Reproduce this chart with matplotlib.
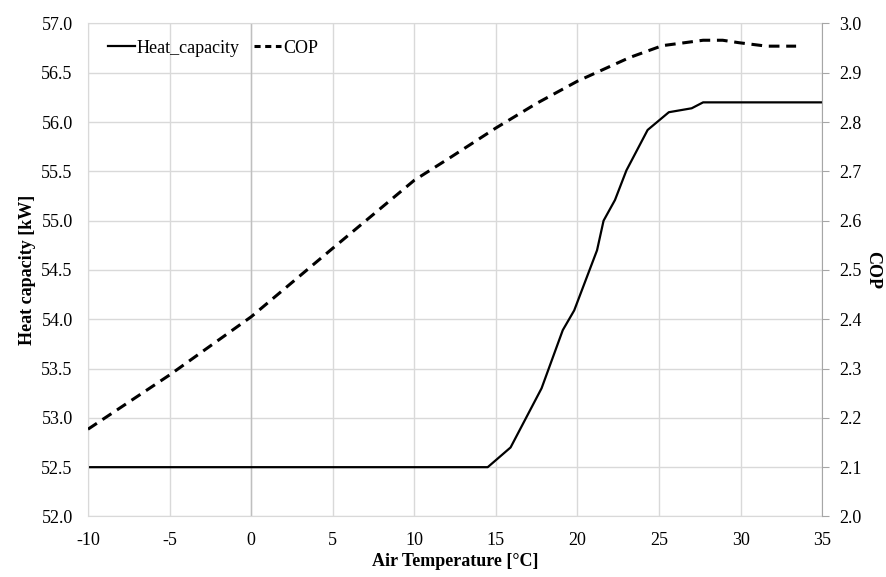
import matplotlib.pyplot as plt
from matplotlib.lines import Line2D

# data
heat_x = [-10, 14.5, 15.9, 17.8, 19.1, 19.8, 21.2, 21.6, 22.3, 23.0, 24.3, 25.6, 27.0, 27.7, 35]
heat_kw = [52.5, 52.5, 52.7, 53.3, 53.89, 54.09, 54.7, 55.0, 55.21, 55.51, 55.92, 56.1, 56.14, 56.2, 56.2]

cop_x = [-10, -5, 0, 5, 10, 12.2, 15, 17.5, 20, 22, 23.2, 25.2, 27.7, 28.9, 29.9, 31.6, 33.4]
cop = [2.177, 2.287, 2.405, 2.544, 2.682, 2.728, 2.788, 2.838, 2.883, 2.913, 2.931, 2.955, 2.966, 2.966,
       2.961, 2.954, 2.954]

x_ticks = list(range(-10, 36, 5))

plt.rcParams['font.family'] = ['Liberation Serif', 'DejaVu Serif']

fig = plt.figure(figsize=(8.86, 5.77), dpi=100)
ax = fig.add_axes([0.0993, 0.1049, 0.8287, 0.8544])
ax2 = ax.twinx()

grid_c = '#d9d9d9'
ax.set_xlim(-10, 35)
ax.set_ylim(52.0, 57.0)
ax2.set_ylim(2.0, 3.0)
ax.set_xticks(x_ticks)
ax.set_yticks([52 + 0.5 * i for i in range(11)])
ax2.set_yticks([2 + 0.1 * i for i in range(11)])
ax.set_yticklabels([f"{52 + 0.5 * i:.1f}" for i in range(11)])
ax2.set_yticklabels([f"{2 + 0.1 * i:.1f}" for i in range(11)])
ax.set_xticklabels([str(v) for v in x_ticks])

ax.grid(True, color=grid_c, linewidth=1.0)
ax.set_axisbelow(True)
ax.axvline(0, color='#bfbfbf', linewidth=1.0, zorder=1)

for s in ['left', 'bottom', 'top']:
    ax.spines[s].set_color(grid_c)
    ax2.spines[s].set_visible(False)
ax.spines['right'].set_visible(False)
ax2.spines['right'].set_color('#a6a6a6')

ax.tick_params(axis='x', length=0, labelsize=13, pad=11)
ax.tick_params(axis='y', length=0, labelsize=13, pad=11)
ax2.tick_params(axis='y', length=5, color='#a6a6a6', labelsize=13, pad=7)

ax.plot(heat_x, heat_kw, color='black', linewidth=1.6)
ax2.plot(cop_x, cop, color='black', linewidth=2.2, dashes=(3.5, 2.2))

ax.set_xlabel('Air Temperature [°C]', fontsize=13, fontweight='bold', labelpad=3)
ax.set_ylabel('Heat capacity [kW]', fontsize=13, fontweight='bold', labelpad=4)
ax2.set_ylabel('COP', fontsize=13, fontweight='bold', rotation=270, labelpad=14)

handles = [Line2D([], [], color='black', linewidth=1.6),
           Line2D([], [], color='black', linewidth=2.2, dashes=(2.0, 1.5))]
ax.legend(handles, ['Heat_capacity', 'COP'], loc='upper left', ncol=2, frameon=False,
          fontsize=13, handlelength=1.5, handletextpad=0.1, columnspacing=0.8,
          bbox_to_anchor=(0.005, 1.0))

fig.savefig('out.png', dpi=100)
